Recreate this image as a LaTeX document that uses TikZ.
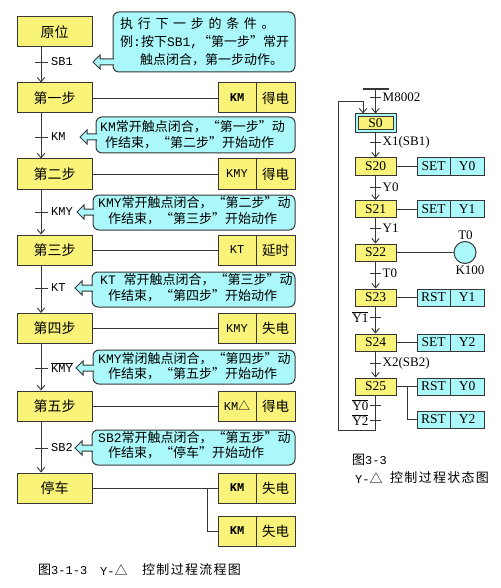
\documentclass[tikz,border=0pt]{standalone}
\usepackage{fontspec}
\setmainfont{Liberation Serif}
\newfontfamily\cjk{Noto Sans CJK SC}
\newfontfamily\monof{Liberation Mono}
\usetikzlibrary{arrows.meta}
\definecolor{yel}{RGB}{250,243,122}
\definecolor{cya}{RGB}{170,248,250}
\definecolor{bd}{RGB}{55,55,55}
\newcommand\callout[6]{%
  \draw[cbox, rounded corners=6] (#1,#2) rectangle (#3,#4);
  \draw[cbox] (#1+1,#6-3) -- (#5+7,#6-3) -- (#5+7,#6-7) -- (#5,#6) -- (#5+7,#6+7) -- (#5+7,#6+3) -- (#1+1,#6+3);
  \fill[cya] (#1-0.9,#6-2.4) rectangle (#1+1.5,#6+2.4);
}
\tikzset{
  stepbox/.style={draw=bd, fill=yel, line width=1, minimum width=75, minimum height=30, inner sep=0, font=\cjk\fontsize{14}{14}\selectfont},
  actk/.style={draw=bd, fill=yel, line width=1, minimum width=38, minimum height=30, inner sep=0, font=\monof\fontsize{12}{12}\selectfont},
  actv/.style={draw=bd, fill=yel, line width=1, minimum width=39, minimum height=30, inner sep=0, font=\cjk\fontsize{13.5}{13.5}\selectfont},
  link/.style={draw=bd, line width=0.9},
  arr/.style={link, -{Straight Barb[length=4.5,width=7.5,line width=0.9]}},
  tickl/.style={draw=bd, line width=0.9},
  tlab/.style={anchor=west, inner sep=0, font=\monof\fontsize{12}{12}\selectfont},
  ctext/.style={anchor=west, inner sep=0, font=\cjk\fontsize{13}{13}\selectfont},
  cbox/.style={draw=bd, fill=cya, line width=1},
  sbox/.style={draw=bd, fill=yel, line width=1, minimum width=41, minimum height=17, inner sep=0, font=\fontsize{13.5}{13.5}\selectfont},
  rk/.style={draw=bd, fill=cya, line width=1, minimum width=33, minimum height=17, inner sep=0, font=\fontsize{13.5}{13.5}\selectfont},
  rv/.style={draw=bd, fill=cya, line width=1, minimum width=34, minimum height=17, inner sep=0, font=\fontsize{13.5}{13.5}\selectfont},
  rlab/.style={inner sep=0, font=\fontsize{13}{13}\selectfont},
  capt/.style={anchor=west, inner sep=0, font=\cjk\fontsize{13}{13}\selectfont},
}
\begin{document}
\begin{tikzpicture}[x=1pt,y=-1pt]
\useasboundingbox (0,0) rectangle (500,588);
% ---------------- left flow chart ----------------
\coordinate (vx) at (41,0);
\node[stepbox] (yw) at (54.5,32) {原位};
\node[stepbox] (s1) at (54.5,98) {第一步};
\node[stepbox] (s2) at (54.5,174) {第二步};
\node[stepbox] (s3) at (54.5,250) {第三步};
\node[stepbox] (s4) at (54.5,328.5) {第四步};
\node[stepbox] (s5) at (54.5,406) {第五步};
\node[stepbox] (s6) at (54.5,488) {停车};
\foreach \a/\b in {yw/s1,s1/s2,s2/s3,s3/s4,s4/s5,s5/s6}
  \draw[arr] (\a.south -| vx) -- (\b.north -| vx);
% transitions
\foreach \n/\y in {t1/62,t2/137,t3/212,t4/288,t5/368,t6/448}
  \coordinate (\n) at (41,\y);
\foreach \n in {t1,t2,t3,t4,t5,t6}
  \draw[tickl] ([xshift=-6]\n) -- ([xshift=7]\n);
\node[tlab] (l1) at ([xshift=10]t1) {SB1};
\node[tlab] (l2) at ([xshift=10]t2) {KM};
\node[tlab] (l3) at ([xshift=10]t3) {KMY};
\node[tlab] (l4) at ([xshift=10]t4) {KT};
\node[tlab] (l5) at ([xshift=10]t5) {$\overline{\mbox{KMY}}$};
\node[tlab] (l6) at ([xshift=10]t6) {SB2};
% action boxes
\node[actk] (k1) at (237,98) {\bfseries KM};
\node[actv] (v1) at (275.5,98) {得电};
\node[actk] (k2) at (237,174) {KMY};
\node[actv] (v2) at (275.5,174) {得电};
\node[actk] (k3) at (237,250) {KT};
\node[actv] (v3) at (275.5,250) {延时};
\node[actk] (k4) at (237,328.5) {KMY};
\node[actv] (v4) at (275.5,328.5) {失电};
\node[actk] (k5) at (237,406) {KM{\cjk △}};
\node[actv] (v5) at (275.5,406) {得电};
\node[actk] (k6) at (237,488) {\bfseries KM};
\node[actv] (v6) at (275.5,488) {失电};
\node[actk] (k7) at (237,531) {\bfseries KM};
\node[actv] (v7) at (275.5,531) {失电};
\foreach \i in {1,...,6}
  \draw[link] (s\i.east) -- (k\i.west);
\coordinate (bx) at (207,0);
\draw[link] (s6.east -| bx) |- (k7.west);
% callouts
\callout{113}{12}{295}{72}{93}{62}
\callout{96}{117}{295}{153}{80}{137}
\callout{93}{195}{295}{230}{77}{212}
\callout{92}{272}{295}{307}{75}{288}
\callout{93}{350}{295}{384}{76}{368}
\callout{92}{430}{295}{465}{75}{448}
\node[ctext] (c1a) at (120,24) {\addfontfeature{LetterSpace=36}执行下一步的条件。};
\node[ctext] (c1b) at (120,42) {例{\monof :}按下{\monof SB1,}“第一步”常开};
\node[ctext] (c1c) at (140,60) {触点闭合，第一步动作。};
\node[ctext] (c2a) at (100,127) {{\monof KM}常开触点闭合，“第一步”动};
\node[ctext] (c2b) at (105,143) {作结束，“第二步”开始动作};
\node[ctext] (c3a) at (98,203) {{\monof KMY}常开触点闭合，“第二步”动};
\node[ctext] (c3b) at (108,219) {作结束，“第三步”开始动作};
\node[ctext] (c4a) at (100,280) {{\monof KT }常开触点闭合，“第三步”动};
\node[ctext] (c4b) at (108,296) {作结束，“第四步”开始动作};
\node[ctext] (c5a) at (98,359) {{\monof KMY}常闭触点闭合，“第四步”动};
\node[ctext] (c5b) at (108,374) {作结束，“第五步”开始动作};
\node[ctext] (c6a) at (98,438) {{\monof SB2}常开触点闭合，“第五步”动};
\node[ctext] (c6b) at (108,453) {作结束，“停车”开始动作};
% caption
\node[capt] (capA) at (38,570) {图{\monof\fontsize{12}{12}\selectfont 3-1-3}};
\node[capt] (capB) at (100,570) {{\monof\fontsize{12}{12}\selectfont Y-}△};
\node[capt] (capC) at (142,570) {\addfontfeature{LetterSpace=10}控制过程流程图};
% ---------------- right state diagram ----------------
\coordinate (rx) at (375.5,0);
\coordinate (bar) at (376,89);
\draw[draw=bd, line width=2] (363,89) -- (389,89);
\node[draw=bd, fill=cya, line width=1, minimum width=41, minimum height=19, inner sep=0] (S0) at (375.5,123.5) {};
\node[sbox, minimum width=35, minimum height=13] (S0i) at (375.5,123.5) {S0};
\node[sbox] (S20) at (375.5,166.5) {S20};
\node[sbox] (S21) at (375.5,209) {S21};
\node[sbox] (S22) at (375.5,252.5) {S22};
\node[sbox] (S23) at (375.5,297.5) {S23};
\node[sbox] (S24) at (375.5,342.5) {S24};
\node[sbox] (S25) at (375.5,386.5) {S25};
\draw[arr] (bar -| rx) -- (S0.north -| rx);
\foreach \a/\b in {S0/S20,S20/S21,S21/S22,S22/S23,S23/S24,S24/S25}
  \draw[arr] (\a.south) -- (\b.north);
\coordinate (lb) at (338,430);
\coordinate (lt) at (338,101);
\draw[arr] (S25.south) |- (lb) -- (lt) -| ([xshift=-12.5]S0.north);
% transitions
\foreach \n/\y in {r0/97,r1/142,r2/187,r3/228,r4/273,r5/317,r6/363,r7/405,r8/420}
  \coordinate (\n) at (375.5,\y);
\foreach \n in {r0,r1,r2,r3,r4,r5,r6,r7,r8}
  \draw[tickl] ([xshift=-5.5]\n) -- ([xshift=5.5]\n);
\node[rlab, anchor=west] (m0) at ([xshift=7]r0) {M8002};
\node[rlab, anchor=west] (m1) at ([xshift=7]r1) {X1(SB1)};
\node[rlab, anchor=west] (m2) at ([xshift=7]r2) {Y0};
\node[rlab, anchor=west] (m3) at ([xshift=7]r3) {Y1};
\node[rlab, anchor=west] (m4) at ([xshift=7]r4) {T0};
\node[rlab, anchor=east] (m5) at ([xshift=-7]r5) {$\overline{\mbox{Y1}}$};
\node[rlab, anchor=west] (m6) at ([xshift=7]r6) {X2(SB2)};
\node[rlab, anchor=east] (m7) at ([xshift=-7]r7) {$\overline{\mbox{Y0}}$};
\node[rlab, anchor=east] (m8) at ([xshift=-7]r8) {$\overline{\mbox{Y2}}$};
% actions
\node[rk] (a20k) at (433.5,166.5) {SET};
\node[rv] (a20v) at (467,166.5) {Y0};
\node[rk] (a21k) at (433.5,209) {SET};
\node[rv] (a21v) at (467,209) {Y1};
\node[rk] (a23k) at (433.5,297.5) {RST};
\node[rv] (a23v) at (467,297.5) {Y1};
\node[rk] (a24k) at (433.5,342.5) {SET};
\node[rv] (a24v) at (467,342.5) {Y2};
\node[rk] (a25k) at (433.5,386.5) {RST};
\node[rv] (a25v) at (467,386.5) {Y0};
\node[rk] (a26k) at (433.5,419.5) {RST};
\node[rv] (a26v) at (467,419.5) {Y2};
\foreach \s in {20,21,23,24,25}
  \draw[link] (S\s.east) -- (a\s k.west);
\coordinate (b25) at (407,0);
\draw[link] (S25.east -| b25) |- (a26k.west);
\node[draw=bd, fill=cya, line width=1, circle, minimum size=22, inner sep=0] (T0c) at (465,252.5) {};
\draw[link] (S22.east) -- (T0c.west);
\node[rlab] (T0l) at (465.5,235.5) {T0};
\node[rlab] (K100) at (470,270) {K100};
% captions
\node[capt] (rcapA) at (352,460) {图{\monof\fontsize{12}{12}\selectfont 3-3}};
\node[capt] (rcapB) at (355,478) {{\monof\fontsize{12}{12}\selectfont Y-}△};
\node[capt] (rcapC) at (390,478) {\addfontfeature{LetterSpace=10}控制过程状态图};
\end{tikzpicture}
\end{document}
